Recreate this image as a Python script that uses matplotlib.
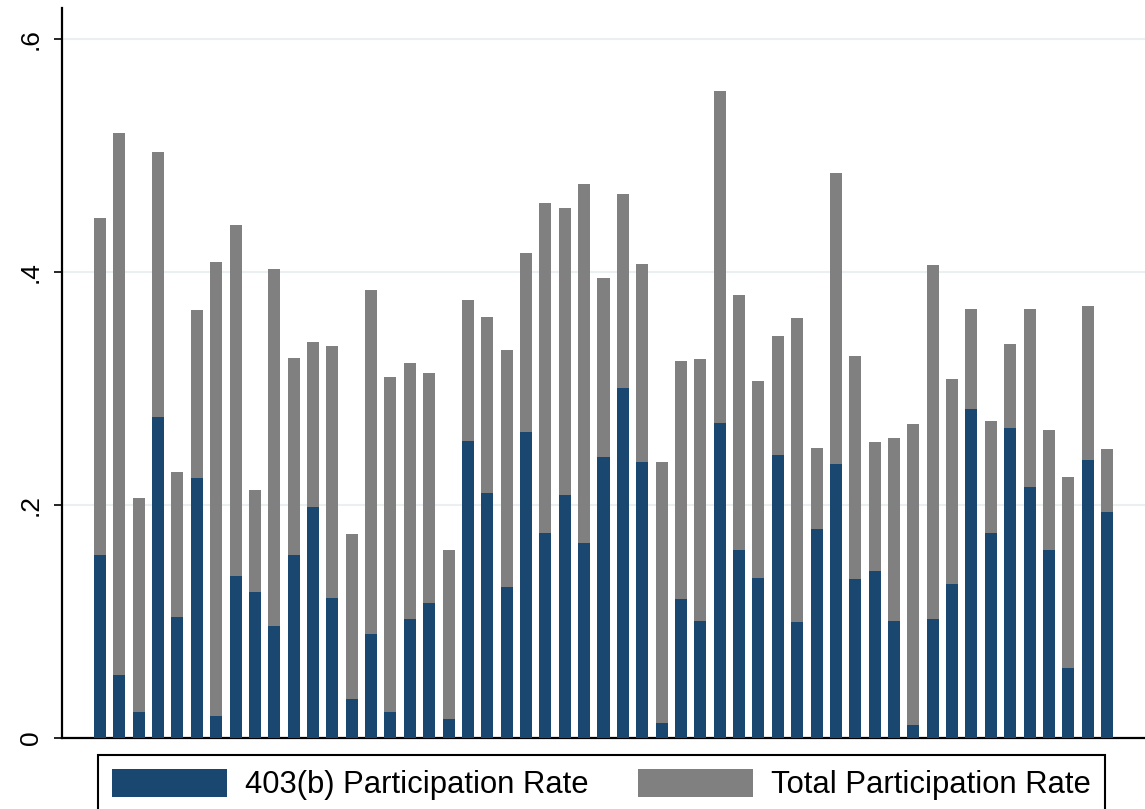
import matplotlib.pyplot as plt
import numpy as np

plt.rcParams['font.family'] = ['Liberation Sans', 'DejaVu Sans']

# 403(b) and total participation rate, one bar per unit (53 units)
rate_403b = [0.157, 0.054, 0.022, 0.275, 0.104, 0.223, 0.019, 0.139, 0.125, 0.096,
             0.157, 0.198, 0.120, 0.033, 0.089, 0.022, 0.102, 0.116, 0.016, 0.255,
             0.210, 0.129, 0.262, 0.176, 0.208, 0.167, 0.241, 0.300, 0.237, 0.013,
             0.119, 0.100, 0.270, 0.161, 0.137, 0.243, 0.099, 0.179, 0.235, 0.136,
             0.143, 0.100, 0.011, 0.102, 0.132, 0.282, 0.176, 0.266, 0.215, 0.161,
             0.060, 0.238, 0.194]
rate_total = [0.446, 0.519, 0.206, 0.503, 0.228, 0.367, 0.408, 0.440, 0.213, 0.402,
              0.326, 0.340, 0.336, 0.175, 0.384, 0.310, 0.322, 0.313, 0.161, 0.376,
              0.361, 0.333, 0.416, 0.459, 0.455, 0.475, 0.395, 0.467, 0.407, 0.237,
              0.323, 0.325, 0.555, 0.380, 0.306, 0.345, 0.360, 0.249, 0.485, 0.328,
              0.254, 0.257, 0.269, 0.406, 0.308, 0.368, 0.272, 0.338, 0.368, 0.264,
              0.224, 0.371, 0.248]
labels = ['403(b) Participation Rate', 'Total Participation Rate']

navy = '#1a476f'
grey = '#808080'

x = np.arange(len(rate_total))
b = np.array(rate_403b)
t = np.array(rate_total)

fig = plt.figure(figsize=(11.45, 8.09), dpi=100)
ax = fig.add_axes([62/1145, (809-737.7)/809, 1-62/1145, (737.7-8)/809])

ax.bar(x, b, width=0.62, color=navy, label=labels[0], zorder=3)
ax.bar(x, t - b, bottom=b, width=0.62, color=grey, label=labels[1], zorder=3)

ax.set_xlim(-1.96, len(x) - 1 + 1.96)
ax.set_ylim(0, 0.6264)
ax.set_yticks([0, 0.2, 0.4, 0.6])
ax.set_yticklabels(['0', '.2', '.4', '.6'], rotation=90, va='center', fontsize=19)
ax.set_xticks([])
ax.grid(axis='y', color='#eaf0f2', linewidth=1.5, zorder=0)
ax.yaxis.get_gridlines()[0].set_visible(False)
for s in ['top', 'right']:
    ax.spines[s].set_visible(False)
ax.spines['left'].set_linewidth(1.6)
ax.spines['bottom'].set_linewidth(1.6)
ax.tick_params(axis='y', length=6, width=1.2, pad=8)

h, l = ax.get_legend_handles_labels()
leg = fig.legend(h, l, ncol=2, loc='upper left', bbox_to_anchor=(98/1145, 1-755/809),
                 borderaxespad=0, fontsize=22.3, handlelength=3.7, handleheight=1.0,
                 handletextpad=0.6, columnspacing=1.6, borderpad=0.45,
                 fancybox=False, framealpha=1)
leg.get_frame().set_edgecolor('black')
leg.get_frame().set_linewidth(1.5)

fig.savefig('out.png', dpi=100)
